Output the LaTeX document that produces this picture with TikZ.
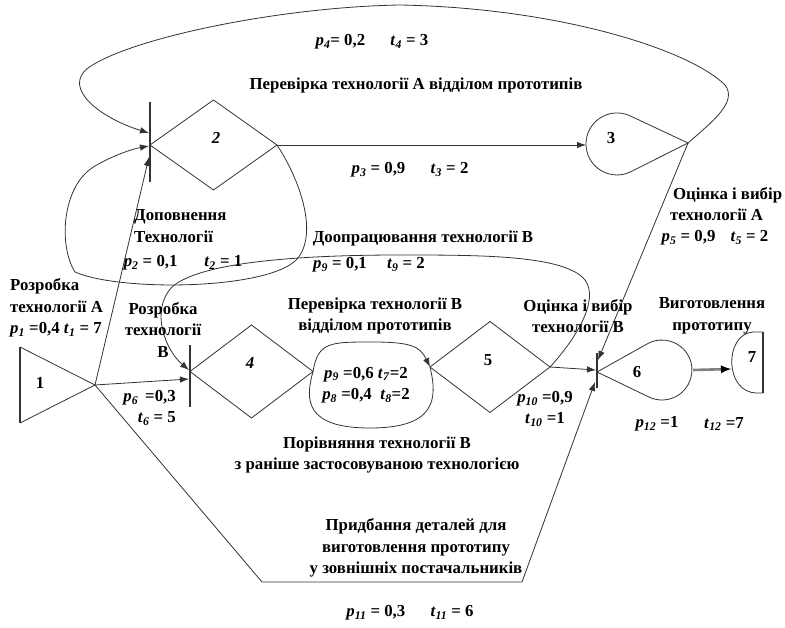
\documentclass[tikz,border=0pt]{standalone}
\usepackage{fontspec}
\setmainfont{Liberation Serif}
\usetikzlibrary{arrows.meta,shapes.geometric}
\newcommand\pv[1]{\textit{p}\textsubscript{\textit{#1}}}
\newcommand\tv[1]{\textit{t}\textsubscript{\textit{#1}}}
\begin{document}
\begin{tikzpicture}[x=1pt,y=-1pt,
  lbl/.style={font=\bfseries\fontsize{16.8}{21.5}\selectfont, inner sep=0pt, text=black},
  conn/.style={line width=0.8pt, draw=black!80},
  arr/.style={conn, -{Latex[length=9pt,width=6.5pt]}},
  dia/.style={diamond, draw=black!80, line width=0.8pt, inner sep=0pt, outer sep=0pt},
  bar/.style={line width=1.3pt, draw=black!80}]
\fill[white] (0,0) rectangle (785,628);

% ---- node 1 (triangle)
\coordinate (t1a) at (20,347);
\coordinate (t1b) at (20,423);
\coordinate (n1) at (95,385);
\draw[conn] (t1a) -- (n1) -- (t1b);
\draw[line width=1.6pt, draw=black!80] (t1a) -- (t1b);
\node[lbl] (l1) at (40,383) {1};

% ---- node 2
\node[dia, minimum width=127pt, minimum height=90pt] (d2) at (213.5,145) {};
\node[lbl] (l2) at (216,138) {\textit{2}};
\coordinate (b2t) at (150,102);
\coordinate (b2b) at (150,182);
\draw[bar] (b2t) -- (b2b);
\coordinate (b2a) at (149,133);
\coordinate (b2c) at (149,146);
\coordinate (b2d) at (149,157);

% ---- node 3 (teardrop)
\coordinate (n3) at (688,143);
\coordinate (n3w) at (586,145);
\draw[conn] (n3) -- (630.6,116.1) arc[start angle=-64,end angle=-296,radius=31] -- cycle;
\node[lbl] (l3) at (611,138) {3};

% ---- node 4
\node[dia, minimum width=123pt, minimum height=93pt] (d4) at (251.5,371.5) {};
\node[lbl] (l4) at (250,363) {\textit{4}};
\coordinate (b4t) at (190,345);
\coordinate (b4b) at (190,407);
\draw[bar] (b4t) -- (b4b);
\coordinate (b4a) at (189,370);
\coordinate (b4c) at (189,379);

% ---- node 5
\node[dia, minimum width=120pt, minimum height=91pt] (d5) at (490,367) {};
\node[lbl] (l5) at (488,360) {5};

% ---- node 6 (teardrop)
\coordinate (n6) at (597,372);
\coordinate (n6e) at (693,370);
\draw[conn] (n6) -- (648.1,343.4) arc[start angle=-117.5,end angle=117.5,radius=30] -- cycle;
\node[lbl] (l6) at (637,372) {6};
\coordinate (b6t) at (597,353);
\coordinate (b6b) at (597,388);
\draw[bar] (b6t) -- (b6b);
\coordinate (b6a) at (598,360);
\coordinate (b6m) at (596,370);
\coordinate (b6c) at (595,382);

% ---- node 7
\coordinate (n7w) at (731,369);
\draw[conn] (763,332) -- (753,332) .. controls (724,334) and (724,393) .. (757,393) -- (763,393);
\draw[line width=1.6pt, draw=black!80] (763,332) -- (763,393);
\node[lbl] (l7) at (752,357) {7};

% ---- connectors
\draw[arr] (n3) .. controls (712,122) and (738,102) .. (725,85)
  .. controls (690,50) and (560,8) .. (400,5)
  .. controls (280,7) and (130,38) .. (88,68)
  .. controls (62,88) and (100,118) .. (b2a);
\draw[arr] (d2.east) -- (n3w);
\draw[arr] (n3) -- (b6a);
\draw[arr] (d2.east) .. controls (300,180) and (318,232) .. (298,258)
  .. controls (272,290) and (120,292) .. (75,272)
  .. controls (58,245) and (62,185) .. (95,166)
  .. controls (112,156) and (132,149) .. (b2c);
\draw[arr] (n1) -- (b2d);
\draw[arr] (n1) -- (b4c);
\coordinate (g1) at (262,582);
\coordinate (g2) at (522,582);
\draw[arr] (n1) -- (g1) -- (g2) -- (b6c);
\draw[arr] (d5.east) .. controls (575,340) and (600,300) .. (585,280)
  .. controls (565,255) and (480,255) .. (400,255)
  .. controls (300,255) and (200,262) .. (172,287)
  .. controls (150,310) and (165,350) .. (b4a);
\draw[arr] (d4.east) .. controls (318,342) and (330,342) .. (372,342)
  .. controls (410,342) and (420,346) .. (d5.west);
\draw[conn] (d4.east) .. controls (305,400) and (305,428) .. (370,428)
  .. controls (435,428) and (438,400) .. (d5.west);
\draw[arr] (d5.east) -- (b6m);
\draw[line width=2.6pt, draw=black!50, shorten >=6pt] (n6e) -- (n7w);
\draw[conn, draw=black, -{Latex[length=10pt,width=8pt]}, shorten <=28pt] (n6e) -- (n7w);

% ---- labels
\node[lbl] (a4) at (372,42) {\pv{4}= 0,2\hspace{1.5em}\tv{4} = 3};
\node[lbl] (a4t) at (416,85) {Перевірка технології А відділом прототипів};
\node[lbl] (a3) at (410,170) {\pv{3} = 0,9\hspace{1.5em}\tv{3} = 2};
\node[lbl, align=left, anchor=west] (a2t) at (134,226) {Доповнення\\Технології};
\node[lbl] (a2) at (183,263) {\pv{2} = 0,1\hspace{1.6em}\tv{2} = 1};
\node[lbl] (a9t) at (423,238) {Доопрацювання технології В};
\node[lbl] (a9) at (369,265) {\pv{9} = 0,1\hspace{1.2em}\tv{9} = 2};
\node[lbl, align=left, anchor=west] (a5t) at (670,204) {\,Оцінка і вибір\\технології А};
\node[lbl] (a5) at (715,238) {\pv{5} = 0,9\hspace{0.9em}\tv{5} = 2};
\node[lbl, align=left, anchor=west] (a1t) at (10,308) {Розробка\\технології А\\\pv{1} =0,4 \tv{1} = 7};
\node[lbl, align=center] (a6t) at (163,330) {Розробка\\технології\\В};
\node[lbl, align=right, anchor=east] (a6) at (176,408) {\pv{6} \,=0,3\\\tv{6} = 5};
\node[lbl, align=center] (a7t) at (375,316) {Перевірка технології В\\відділом прототипів};
\node[lbl, align=center] (a10t) at (578,316) {Оцінка і вибір\\технології В};
\node[lbl, align=center] (a12t) at (712,316) {Виготовлення\\прототипу};
\node[lbl, align=center] (a78) at (366,385) {\pv{9} =0,6 \tv{7}=2\\\pv{8} =0,4 \ \tv{8}=2};
\node[lbl, align=center] (a10) at (545,409) {\pv{10} =0,9\\\tv{10} =1};
\node[lbl] (a12) at (657,424) {\pv{12} =1};
\node[lbl] (a12b) at (724,424) {\tv{12} =7};
\node[lbl, align=center] (a8t) at (377,455) {Порівняння технології В\\з раніше застосовуваною технологією};
\node[lbl, align=center] (a11t) at (416,548) {Придбання деталей для\\виготовлення прототипу\\у зовнішніх постачальників};
\node[lbl] (a11) at (410,613) {\pv{11} = 0,3\hspace{1.5em}\tv{11} = 6};
\end{tikzpicture}
\end{document}
